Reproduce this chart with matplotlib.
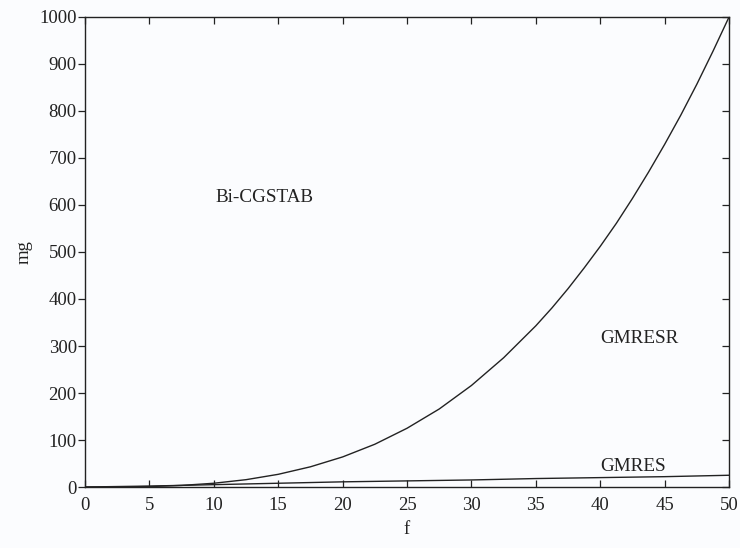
import matplotlib
matplotlib.use("Agg")
import matplotlib.pyplot as plt

# values
f_vals = [0, 2.5, 5, 7.5, 10, 12.5, 15, 17.5, 20, 22.5, 25, 27.5, 30,
          32.5, 35, 36.25, 37.5, 38.75, 40, 41.25, 42.5, 43.75, 45,
          46.25, 47.5, 48.75, 50]
mg_bicgstab = [0, 0.1, 1, 3.4, 8, 15.6, 27, 43, 64, 91, 125, 166, 216,
               275, 343, 381, 422, 466, 512, 561, 614, 670, 729,
               791, 857, 927, 1000]

f_gmres = [0, 5, 10, 15, 20, 25, 30, 35, 40, 45, 50]
mg_gmres = [0, 2, 5, 8, 11, 13, 15, 18, 20, 22, 25]

region_labels = ["Bi-CGSTAB", "GMRESR", "GMRES"]
label_pos = [(10.1, 617), (40.0, 317), (40.0, 43)]

xticks = list(range(0, 51, 5))
yticks = list(range(0, 1001, 100))

plt.rcParams['font.family'] = ['Liberation Serif', 'DejaVu Serif']

bg = '#fbfcfe'
fig = plt.figure(figsize=(7.4, 5.48), dpi=100, facecolor=bg)
ax = fig.add_axes([0.1149, 0.1113, 0.8703, 0.8577])
ax.set_facecolor(bg)

ink = '#222222'
ax.plot(f_vals, mg_bicgstab, color=ink, lw=1.0)
ax.plot(f_gmres, mg_gmres, color=ink, lw=1.0)

for txt, (x, y) in zip(region_labels, label_pos):
    ax.text(x, y, txt, fontsize=13.8, color=ink, ha='left', va='center')

ax.set_xlim(0, 50)
ax.set_ylim(0, 1000)
ax.set_xticks(xticks)
ax.set_yticks(yticks)
ax.tick_params(axis='x', direction='in', top=True, length=5, width=0.9,
               labelsize=13.5, colors=ink, pad=7)
ax.tick_params(axis='y', direction='out', length=5, width=0.9,
               labelsize=13.5, colors=ink, pad=1)
ax.tick_params(axis='y', which='both', right=True)
# right side ticks point inward
for t in ax.yaxis.get_major_ticks():
    t.tick2line.set_marker(matplotlib.lines.TICKLEFT)

for s in ax.spines.values():
    s.set_color(ink)
    s.set_linewidth(1.0)

ax.set_xlabel("f", fontsize=13.5, color=ink, labelpad=5)
ax.set_ylabel("mg", fontsize=13.5, color=ink, labelpad=5)

fig.savefig("out.png", dpi=100, facecolor=bg)
